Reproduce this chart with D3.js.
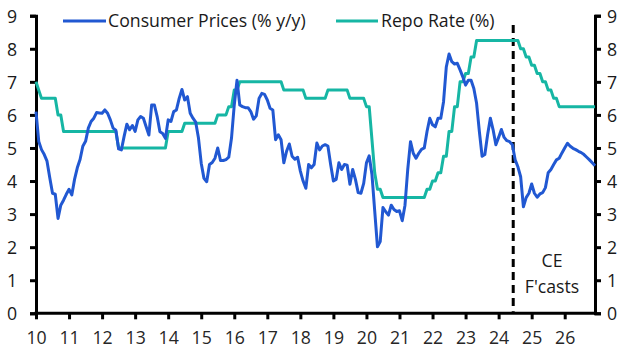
<!DOCTYPE html>
<html>
<head>
<meta charset="utf-8">
<script src="https://cdn.jsdelivr.net/npm/d3@7"></script>
<style>
  html, body { margin: 0; padding: 0; background: #fff; }
  svg { display: block; font-family: "Open Sans", Lato, sans-serif; }
</style>
</head>
<body>
<svg id="chart" width="631" height="359"></svg>
<script>
// Monthly data, Jan 2010 .. Dec 2026
const startYear = 2010;
const yearTicks = ["10","11","12","13","14","15","16","17","18","19","20","21","22","23","24","25","26"];
const yTicks = [0,1,2,3,4,5,6,7,8,9];

const cpi = [
  // 2010
  6.1, 5.2, 4.95, 4.8, 4.6, 4.1, 3.63, 3.6, 2.87, 3.27, 3.42, 3.6,
  // 2011
  3.75, 3.58, 4.05, 4.4, 4.65, 5.05, 5.2, 5.6, 5.8, 5.9, 6.07, 6.06,
  // 2012
  6.05, 6.15, 6.05, 5.85, 5.6, 5.54, 4.97, 4.94, 5.35, 5.72, 5.55, 5.68,
  // 2013
  5.5, 5.85, 5.95, 5.9, 5.64, 5.39, 6.3, 6.3, 5.95, 5.49, 5.44, 5.29,
  // 2014
  5.85, 5.8, 6.1, 6.15, 6.5, 6.77, 6.45, 6.55, 6.05, 5.9, 5.78, 5.3,
  // 2015
  4.54, 4.08, 3.98, 4.5, 4.56, 4.69, 5.0, 4.62, 4.62, 4.65, 4.72, 5.3,
  // 2016
  6.3, 7.05, 6.3, 6.25, 6.22, 6.22, 6.1, 5.87, 5.97, 6.5, 6.65, 6.62,
  // 2017
  6.45, 6.2, 6.15, 5.25, 5.4, 5.25, 4.55, 4.9, 5.12, 4.75, 4.66, 4.72,
  // 2018
  4.3, 4.0, 3.78, 4.5, 4.4, 4.5, 5.15, 4.94, 5.06, 5.1, 5.06, 4.5,
  // 2019
  4.0, 4.05, 4.55, 4.35, 4.5, 4.48, 3.9, 4.35, 4.05, 3.65, 3.63, 3.93,
  // 2020
  4.55, 4.76, 4.2, 3.1, 2.01, 2.17, 3.2, 3.07, 2.97, 3.27, 3.14, 3.08,
  // 2021
  3.1, 2.8, 3.27, 4.35, 5.19, 4.84, 4.69, 4.84, 4.96, 5.0, 5.5, 5.9,
  // 2022
  5.7, 5.64, 5.9, 5.9, 6.4, 7.45, 7.84, 7.61, 7.54, 7.56, 7.36, 7.15,
  // 2023
  6.9, 7.05, 7.05, 6.8, 6.35, 5.5, 4.75, 4.8, 5.4, 5.9, 5.55, 5.1,
  // 2024
  5.32, 5.56, 5.32, 5.22, 5.19, 5.1, 4.64, 4.43, 4.13, 3.22, 3.5, 3.63,
  // 2025
  3.91, 3.63, 3.51, 3.61, 3.65, 3.8, 4.25, 4.35, 4.5, 4.64, 4.69, 4.85,
  // 2026
  5.0, 5.14, 5.05, 4.99, 4.95, 4.9, 4.86, 4.8, 4.72, 4.64, 4.55, 4.46
];

const repo = [
  // 2010
  7.0, 6.75, 6.5, 6.5, 6.5, 6.5, 6.5, 6.5, 6.0, 6.0, 5.5, 5.5,
  // 2011
  5.5, 5.5, 5.5, 5.5, 5.5, 5.5, 5.5, 5.5, 5.5, 5.5, 5.5, 5.5,
  // 2012
  5.5, 5.5, 5.5, 5.5, 5.5, 5.5, 5.0, 5.0, 5.0, 5.0, 5.0, 5.0,
  // 2013
  5.0, 5.0, 5.0, 5.0, 5.0, 5.0, 5.0, 5.0, 5.0, 5.0, 5.0, 5.0,
  // 2014
  5.5, 5.5, 5.5, 5.5, 5.5, 5.5, 5.75, 5.75, 5.75, 5.75, 5.75, 5.75,
  // 2015
  5.75, 5.75, 5.75, 5.75, 5.75, 5.75, 6.0, 6.0, 6.0, 6.0, 6.25, 6.25,
  // 2016
  6.75, 6.75, 7.0, 7.0, 7.0, 7.0, 7.0, 7.0, 7.0, 7.0, 7.0, 7.0,
  // 2017
  7.0, 7.0, 7.0, 7.0, 7.0, 7.0, 6.75, 6.75, 6.75, 6.75, 6.75, 6.75,
  // 2018
  6.75, 6.75, 6.5, 6.5, 6.5, 6.5, 6.5, 6.5, 6.5, 6.5, 6.75, 6.75,
  // 2019
  6.75, 6.75, 6.75, 6.75, 6.75, 6.75, 6.5, 6.5, 6.5, 6.5, 6.5, 6.5,
  // 2020
  6.25, 6.25, 5.25, 4.25, 3.75, 3.75, 3.5, 3.5, 3.5, 3.5, 3.5, 3.5,
  // 2021
  3.5, 3.5, 3.5, 3.5, 3.5, 3.5, 3.5, 3.5, 3.5, 3.5, 3.75, 3.75,
  // 2022
  4.0, 4.0, 4.25, 4.25, 4.75, 4.75, 5.5, 5.5, 6.25, 6.25, 7.0, 7.0,
  // 2023
  7.25, 7.25, 7.75, 7.75, 8.25, 8.25, 8.25, 8.25, 8.25, 8.25, 8.25, 8.25,
  // 2024
  8.25, 8.25, 8.25, 8.25, 8.25, 8.25, 8.25, 8.25, 8.0, 8.0, 7.75, 7.75,
  // 2025
  7.5, 7.5, 7.25, 7.25, 7.0, 7.0, 6.75, 6.75, 6.5, 6.5, 6.25, 6.25,
  // 2026
  6.25, 6.25, 6.25, 6.25, 6.25, 6.25, 6.25, 6.25, 6.25, 6.25, 6.25, 6.25
];

const forecastStartMonth = 173.3; // around mid-2024
const seriesNames = ["Consumer Prices (% y/y)", "Repo Rate (%)"];
const colors = ["#2158d2", "#16b6a4"];
const fcLabel = ["CE", "F'casts"];

const svg = d3.select("#chart");
const m = { left: 36, right: 595, top: 15.7, bottom: 313.3 };

const x = d3.scaleLinear().domain([0, cpi.length - 1]).range([m.left, m.right]);
const y = d3.scaleLinear().domain([0, 9]).range([m.bottom, m.top]);

const fs = 17.7;
const ff = "'Open Sans', Lato, sans-serif";

// Axes
const xAxis = d3.axisBottom(x)
  .tickValues(yearTicks.map((d, i) => i * 12))
  .tickFormat((d, i) => yearTicks[i])
  .tickSizeOuter(0).tickSize(6);
const gx = svg.append("g").attr("transform", `translate(0,${m.bottom})`).call(xAxis);
gx.select(".domain").attr("stroke", "#000").attr("stroke-width", 3)
  .attr("d", `M${m.left - 1.5},0H${m.right + 1.5}`);
gx.selectAll(".tick line").attr("stroke", "#000").attr("stroke-width", 3);
gx.selectAll(".tick text").attr("y", 31).attr("dy", 0)
  .attr("fill", "#262626").style("font-size", fs + "px").style("font-family", ff);

const yAxisL = d3.axisLeft(y).tickValues(yTicks).tickFormat(d3.format("d"))
  .tickSizeOuter(0).tickSize(6).tickPadding(13);
const gyl = svg.append("g").attr("transform", `translate(${m.left},0)`).call(yAxisL);
gyl.select(".domain").attr("stroke", "#000").attr("stroke-width", 3);
gyl.selectAll(".tick line").attr("stroke", "#000").attr("stroke-width", 3);
gyl.selectAll(".tick text").attr("dy", "0.36em")
  .attr("fill", "#1a1a1a").style("font-size", fs + "px").style("font-family", ff);

const yAxisR = d3.axisRight(y).tickValues(yTicks).tickFormat(d3.format("d"))
  .tickSizeOuter(0).tickSize(6).tickPadding(6);
const gyr = svg.append("g").attr("transform", `translate(${m.right},0)`).call(yAxisR);
gyr.select(".domain").attr("stroke", "#000").attr("stroke-width", 3);
gyr.selectAll(".tick line").attr("stroke", "#000").attr("stroke-width", 3);
gyr.selectAll(".tick text").attr("dy", "0.36em")
  .attr("fill", "#1a1a1a").style("font-size", fs + "px").style("font-family", ff);

// Forecast divider
svg.append("line")
  .attr("x1", x(forecastStartMonth)).attr("x2", x(forecastStartMonth))
  .attr("y1", 25).attr("y2", m.bottom - 1.5)
  .attr("stroke", "#000").attr("stroke-width", 3).attr("stroke-dasharray", "8,5");

// Lines
const line = d3.line().x((d, i) => x(i)).y(d => y(d));
svg.append("path").datum(repo).attr("d", line)
  .attr("fill", "none").attr("stroke", colors[1]).attr("stroke-width", 3)
  .attr("stroke-linejoin", "round");
svg.append("path").datum(cpi).attr("d", line)
  .attr("fill", "none").attr("stroke", colors[0]).attr("stroke-width", 3)
  .attr("stroke-linejoin", "round");

// Legend
const legend = [
  { name: seriesNames[0], color: colors[0], x1: 63, x2: 106, tx: 108 },
  { name: seriesNames[1], color: colors[1], x1: 336, x2: 378, tx: 381 }
];
legend.forEach(l => {
  svg.append("line").attr("x1", l.x1).attr("x2", l.x2).attr("y1", 21).attr("y2", 21)
    .attr("stroke", l.color).attr("stroke-width", 3);
  svg.append("text").attr("x", l.tx).attr("y", 27).text(l.name)
    .attr("fill", "#1a1a1a").style("font-size", fs + "px").style("font-family", ff);
});

// Forecast label
svg.append("text").attr("x", 552).attr("y", 266.5).attr("text-anchor", "middle")
  .text(fcLabel[0]).attr("fill", "#1a1a1a").style("font-size", fs + "px").style("font-family", ff);
svg.append("text").attr("x", 552).attr("y", 292.5).attr("text-anchor", "middle")
  .text(fcLabel[1]).attr("fill", "#1a1a1a").style("font-size", fs + "px").style("font-family", ff);
</script>
</body>
</html>
